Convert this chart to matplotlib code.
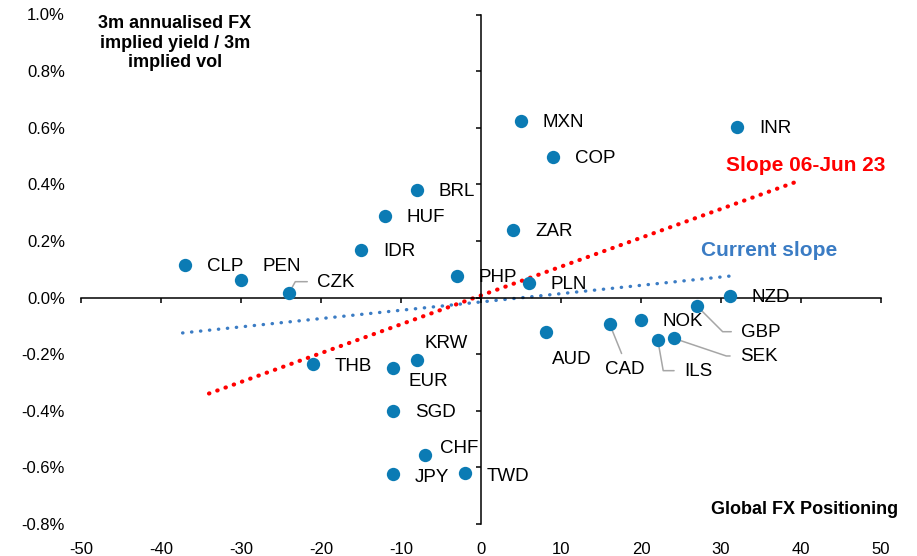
import numpy as np
import matplotlib
matplotlib.use("Agg")
import matplotlib.pyplot as plt

plt.rcParams['font.family'] = ['Liberation Sans', 'DejaVu Sans']

# currency, global FX positioning, 3m carry / vol (%)
currencies = ["CLP", "PEN", "CZK", "IDR", "HUF", "BRL", "PHP", "MXN", "COP", "ZAR", "PLN", "INR", "NZD",
              "GBP", "NOK", "CAD", "AUD", "ILS", "SEK", "KRW", "EUR", "THB", "SGD", "CHF", "JPY", "TWD"]
positioning = [-37, -30, -24, -15, -12, -8, -3, 5, 9, 4, 6, 32, 31.1,
               27, 20, 16.1, 8.1, 22.1, 24.1, -8, -11, -21, -11, -7, -11, -2]
carry_vol = [0.115, 0.062, 0.016, 0.168, 0.288, 0.380, 0.076, 0.625, 0.498, 0.239, 0.050, 0.602, 0.007,
             -0.030, -0.080, -0.095, -0.123, -0.150, -0.144, -0.221, -0.250, -0.233, -0.401, -0.557, -0.624, -0.620]

# fitted slopes (end points)
slope_jun23_x = [-34, 40]
slope_jun23_y = [-0.339, 0.415]
slope_now_x = [-37.3, 31.5]
slope_now_y = [-0.125, 0.077]

x_ticks = np.arange(-50, 51, 10)
y_ticks = np.round(np.arange(-0.8, 1.01, 0.2), 1) + 0.0

dot_col = "#0B7BB4"
red = "#FF0000"
blue = "#3B7CC4"
grey = "#A6A6A6"

# label offsets in pixels (dx, dy up); default is to the right of the point
px = 0.72
offsets = {"PEN": (21, 15), "CZK": (28, 12), "GBP": (44, -25), "CAD": (15, -44), "AUD": (6, -26),
           "ILS": (26, -30), "SEK": (66, -17), "KRW": (7, 18), "EUR": (15, -12), "THB": (22, -1),
           "CHF": (15, 8), "JPY": (22, -2), "TWD": (22, -2)}
leaders = {"CZK": 61, "GBP": -45, "ILS": -80, "SEK": -18.6}

fig = plt.figure(figsize=(9.17, 5.56), dpi=100)
pos = [81 / 917, 1 - 524 / 556, 800 / 917, 509.5 / 556]
ax = fig.add_axes(pos)
ax.set_xlim(-50, 50)
ax.set_ylim(-0.8, 1.0)

for s in ["top", "right"]:
    ax.spines[s].set_visible(False)
ax.spines["left"].set_position(("data", 0))
ax.spines["bottom"].set_position(("data", 0))
for s in ["left", "bottom"]:
    ax.spines[s].set_linewidth(1.1)
ax.set_xticks(x_ticks)
ax.set_yticks(y_ticks)
ax.tick_params(length=3.5, width=1.1, labelleft=False, labelbottom=False)

# tick labels live on the outer frame
lab = fig.add_axes(pos, frameon=False, sharex=ax, sharey=ax)
lab.tick_params(length=0, labelsize=12, colors="black")
lab.tick_params(axis="y", pad=11.5)
lab.tick_params(axis="x", pad=13)
lab.set_yticklabels([f"{abs(v):.1f}%" if abs(v) < 1e-9 else f"{v:.1f}%" for v in y_ticks])
lab.set_xticklabels([f"{v:d}" for v in x_ticks])
lab.set_zorder(-1)

ax.plot(slope_jun23_x, slope_jun23_y, color=red, lw=3, linestyle=(0, (0.1, 2.0)),
        dash_capstyle="round", zorder=2)
ax.plot(slope_now_x, slope_now_y, color=blue, lw=2.4, linestyle=(0, (0.1, 2.6)),
        dash_capstyle="round", zorder=2)

ax.scatter(positioning, carry_vol, s=92, color=dot_col, linewidths=0, zorder=4)

for name, x, y in zip(currencies, positioning, carry_vol):
    dx, dy = offsets.get(name, (22, 0))
    dy -= 1.5
    ha = "center" if name == "CAD" else "left"
    kw = {}
    if name in leaders:
        kw["arrowprops"] = dict(arrowstyle="-", color=grey, lw=1.1, shrinkA=5, shrinkB=0,
                                relpos=(0, 0.55),
                                connectionstyle=f"angle,angleA=0,angleB={leaders[name]},rad=0")
    elif name == "CAD":
        kw["arrowprops"] = dict(arrowstyle="-", color=grey, lw=1.1, shrinkA=4, shrinkB=0,
                                relpos=(0.5, 1))
    ax.annotate(name, (x, y), xytext=(dx * px, dy * px), textcoords="offset points",
                ha=ha, va="center", fontsize=13.5, zorder=3, **kw)

ax.text(30.6, 0.468, "Slope 06-Jun 23", color=red, fontsize=15, fontweight="bold", va="center")
ax.text(27.5, 0.165, "Current slope", color=blue, fontsize=15, fontweight="bold", va="center")

fig.text(175 / 917, 1 - 43 / 556, "3m annualised FX\nimplied yield / 3m\nimplied vol",
         ha="center", va="center", multialignment="center", fontsize=13, fontweight="bold",
         linespacing=1.22)
fig.text(898 / 917, 1 - 509 / 556, "Global FX Positioning", ha="right", va="center",
         fontsize=13, fontweight="bold")

fig.savefig("out.png", dpi=100)
